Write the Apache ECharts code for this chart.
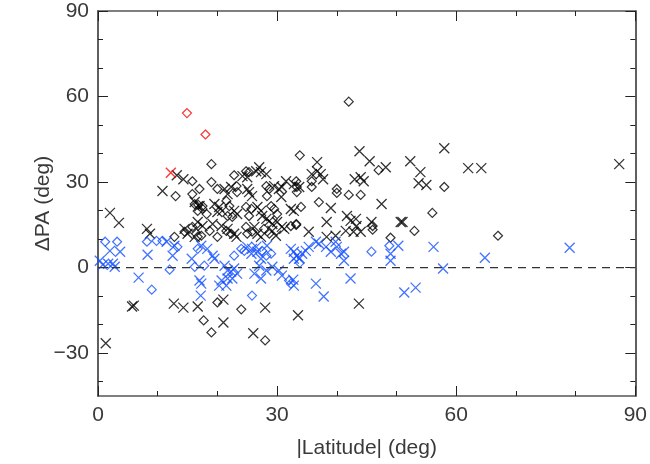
<!DOCTYPE html>
<html>
<head>
<meta charset="utf-8">
<script src="https://cdn.jsdelivr.net/npm/echarts@6/dist/echarts.min.js"></script>
<style>
  html, body { margin: 0; padding: 0; background: #fff; }
  #chart { width: 650px; height: 464px; }
</style>
</head>
<body>
<div id="chart"></div>
<script>
// |latitude| (deg), delta PA (deg)
const blackCross = [
  [2.0, 19.2], [3.5, 15.7], [1.3, -26.5], [5.7, -13.6], [6.0, -13.3], [10.8, 26.9],
  [13.2, 32.4], [14.3, 31.0], [8.2, 13.6], [8.7, 11.9], [14.5, 13.6], [15.0, 11.9],
  [12.7, -12.6], [14.3, -14.0], [16.7, -13.6], [21.0, -11.2], [21.0, -19.2], [28.0, -14.0],
  [26.0, -23.0], [33.5, -16.7], [43.7, -12.6],
  [27.0, 35.2], [26.5, 33.8], [27.3, 33.5], [28.2, 32.8], [24.2, 32.1], [25.0, 31.7],
  [21.2, 27.6], [22.3, 28.3], [21.7, 25.8], [25.0, 27.6], [25.3, 26.5], [25.8, 25.1],
  [29.5, 28.6], [30.3, 27.6], [30.8, 28.3], [30.7, 24.8], [31.5, 30.3], [32.8, 29.3],
  [32.3, 20.6], [32.8, 19.9], [16.2, 23.0], [17.0, 21.6], [19.5, 22.3], [20.3, 21.3],
  [20.0, 19.5], [20.8, 19.9], [22.8, 19.9], [23.3, 18.8], [26.7, 21.3], [27.3, 19.9],
  [27.5, 18.1], [28.2, 17.1], [28.7, 16.4], [29.2, 15.3], [30.0, 16.0], [30.8, 14.3],
  [31.2, 13.6], [16.7, 16.0], [17.5, 14.6], [16.5, 13.6], [19.2, 15.3], [20.7, 14.6],
  [21.7, 13.6], [22.8, 11.9], [23.2, 10.8], [26.2, 14.3], [26.7, 11.9], [27.3, 10.8],
  [29.2, 12.9], [29.8, 11.2], [16.2, 10.8],
  [43.8, 40.8], [45.5, 37.3], [48.2, 35.2], [36.7, 37.0], [35.8, 32.8], [36.7, 33.8],
  [37.3, 32.8], [37.7, 31.0], [33.7, 28.3], [43.0, 31.0], [44.0, 31.7], [44.5, 30.3],
  [39.0, 20.9], [47.5, 22.3], [38.3, 16.0], [41.7, 18.1], [42.3, 16.4], [43.2, 17.1],
  [43.3, 14.6], [35.3, 12.6], [38.3, 10.8], [39.8, 11.2], [41.5, 12.9], [42.8, 12.6],
  [44.0, 12.6], [45.8, 16.0], [50.7, 16.0],
  [58.0, 41.9], [52.3, 37.3], [54.0, 33.5], [53.7, 29.6], [55.0, 29.0], [62.0, 34.9],
  [64.2, 34.9], [51.0, 16.0], [87.3, 36.3]
];
const blackDiamond = [
  [13.0, 25.1], [15.8, 30.3], [17.0, 27.6], [15.8, 25.8], [16.2, 22.3], [16.7, 19.9],
  [17.5, 21.6], [12.8, 10.8], [14.5, 12.6], [15.8, 14.3], [16.7, 10.8], [19.0, 36.3],
  [33.8, 39.4], [24.8, 33.8], [25.3, 33.5], [22.8, 32.4], [19.0, 30.0], [20.0, 27.6],
  [23.2, 28.6], [23.3, 26.5], [28.2, 28.6], [28.7, 27.6], [28.3, 25.1], [33.3, 28.3],
  [33.3, 26.5], [34.0, 21.3], [16.8, 22.0], [17.5, 20.6], [18.2, 18.8], [21.5, 23.4],
  [22.0, 21.6], [21.7, 18.1], [22.5, 17.8], [24.8, 21.3], [25.7, 20.6], [25.3, 18.1],
  [29.0, 21.6], [29.5, 20.6], [30.0, 18.8], [32.3, 14.6], [33.2, 15.3], [17.3, 11.2],
  [18.7, 12.9], [20.0, 10.8], [21.5, 12.9], [22.3, 11.9], [24.8, 14.3], [25.0, 11.9],
  [25.8, 12.6], [27.8, 13.6], [28.7, 11.9],
  [17.7, -18.5], [20.0, -12.2], [19.0, -22.7], [24.0, -14.6], [28.0, -25.5],
  [42.0, 58.2], [47.0, 34.2], [35.8, 30.3], [35.8, 28.3], [33.2, 30.3], [40.0, 27.6],
  [40.0, 26.2], [42.0, 25.5], [44.0, 25.5], [37.0, 23.0], [33.2, 15.0], [46.0, 14.6],
  [46.0, 13.3], [49.0, 10.5], [58.0, 28.3], [56.0, 19.2], [53.0, 12.9], [67.0, 11.2]
];
const blueCross = [
  [2.0, 5.9], [3.7, 5.6], [0.3, 2.4], [0.8, 1.0], [1.7, 1.4], [2.5, 1.4], [2.8, 0.3],
  [6.8, -3.5], [8.3, 4.5], [11.5, 9.1], [12.5, 4.2], [12.8, 7.7], [15.7, 3.1],
  [17.0, -4.5], [17.3, -5.6], [17.2, -9.8], [17.3, 7.7], [18.3, 6.6], [19.2, 4.2],
  [19.5, 3.1], [21.2, 0.7], [21.7, -1.0], [22.3, -1.4], [22.8, -0.3], [23.3, -2.1],
  [22.5, -3.8], [21.7, -3.8], [20.7, -4.5], [20.3, -6.3], [21.5, -6.3], [25.0, 7.3],
  [25.8, 6.6], [26.5, 7.3], [26.7, 5.6], [25.7, 4.9], [28.3, 7.7], [27.3, 3.1],
  [27.0, 0.7], [28.2, -1.0], [29.2, 0.3], [30.3, -1.0], [30.8, -2.8], [32.3, 6.6],
  [32.8, 5.6], [33.3, 4.2], [32.8, 3.1], [33.7, 3.1], [34.2, 4.9], [26.2, -2.1],
  [27.3, -3.8], [32.8, -6.3], [32.7, -4.2], [36.5, -5.6], [37.8, -10.1], [42.3, -3.8],
  [34.8, 5.9], [35.3, 7.3], [36.5, 9.1], [37.0, 8.4], [38.2, 7.3], [39.0, 5.6],
  [39.8, 9.1], [40.0, 7.3], [40.7, 4.9], [41.2, 5.6], [41.2, 2.4],
  [49.0, 4.9], [49.0, 2.4], [50.3, 7.7], [56.2, 7.3], [57.8, -0.3], [64.8, 3.5],
  [51.3, -8.7], [53.2, -7.0], [79.0, 7.0]
];
const blueDiamond = [
  [1.2, 9.1], [3.2, 9.1], [8.2, 9.1], [9.8, 9.4], [10.8, 9.4], [9.0, -7.7], [12.0, -0.7],
  [16.2, 0.3], [13.3, 7.3], [16.7, 6.6], [17.8, 0.7], [22.8, 4.2], [24.0, 6.6],
  [24.5, 5.9], [27.5, 5.9], [28.2, 4.2], [29.0, 4.9], [32.0, -4.5], [32.3, -5.6],
  [25.8, -9.8], [45.8, 5.6], [33.8, 1.7], [48.8, 7.7]
];
const redCross = [[12.2, 33.3]];
const redDiamond = [[14.9, 54.2], [18.0, 46.7]];
const zeroLine = [[0, 0], [90, 0]];

// tick positions on the delta PA axis (range -45..90)
const yMajor = [-30, 0, 30, 60, 90];
const yMinor = [-40, -20, -10, 10, 20, 40, 50, 70, 80];

const crossPath = "path://M0,0L10,10M10,0L0,10";
const textColor = "#3a3a3a";
const axisColor = "#555";
const font = "Liberation Sans";
const fontSize = 21;
const blue = "#1450ff";

function cross(name, data, color) {
  return {
    name, type: "scatter", data, symbol: crossPath, symbolSize: 10,
    itemStyle: { color: "none", borderColor: color, borderWidth: 1.3 },
    silent: true
  };
}
function diamond(name, data, color) {
  return {
    name, type: "scatter", data, symbol: "diamond", symbolSize: 9,
    itemStyle: { color: "none", borderColor: color, borderWidth: 1.2 },
    silent: true
  };
}

const chart = echarts.init(document.getElementById("chart"), null, { renderer: "canvas" });

const tickStyle = { color: "#222", width: 1 };
const baseX = {
  type: "value", min: 0, max: 90, interval: 30,
  axisLine: { show: true, onZero: false, lineStyle: { color: axisColor, width: 1.5 } },
  axisTick: { show: true, inside: true, length: 10, lineStyle: tickStyle },
  minorTick: { show: true, splitNumber: 3, length: 5, lineStyle: tickStyle },
  splitLine: { show: false }
};
function yAxisOf(position, ticks, len, labels) {
  return {
    type: "value", min: -45, max: 90, position,
    axisLine: { show: true, onZero: false, lineStyle: { color: axisColor, width: 1.5 } },
    axisTick: { show: true, inside: true, length: len, customValues: ticks, lineStyle: tickStyle },
    axisLabel: labels
      ? {
          color: textColor, fontSize, fontFamily: font, margin: 9,
          customValues: ticks,
          formatter: (v) => String(v).replace("-", "\u2212")
        }
      : { show: false },
    splitLine: { show: false }
  };
}

const yLeft = yAxisOf("left", yMajor, 10, true);
yLeft.name = "ΔPA (deg)";
yLeft.nameLocation = "middle";
yLeft.nameGap = 44;
yLeft.nameMoveOverlap = false;
yLeft.nameTextStyle = { color: textColor, fontSize, fontFamily: font };

chart.setOption({
  animation: false,
  backgroundColor: "#fff",
  grid: { left: 98, top: 11, right: 12, bottom: 66 },
  xAxis: [
    Object.assign({}, baseX, {
      position: "bottom",
      name: "|Latitude| (deg)", nameLocation: "middle", nameGap: 42,
      nameMoveOverlap: false,
      nameTextStyle: { color: textColor, fontSize, fontFamily: font },
      axisLabel: { color: textColor, fontSize, fontFamily: font, margin: 9 }
    }),
    Object.assign({}, baseX, { position: "top", axisLabel: { show: false } })
  ],
  yAxis: [
    yLeft,
    yAxisOf("left", yMinor, 5, false),
    yAxisOf("right", yMajor, 10, false),
    yAxisOf("right", yMinor, 5, false)
  ],
  series: [
    {
      type: "line", data: zeroLine, symbol: "none", silent: true,
      lineStyle: { color: "#333", width: 1.2, type: [8, 6] }
    },
    cross("black x", blackCross, "#000"),
    diamond("black diamond", blackDiamond, "#000"),
    cross("blue x", blueCross, blue),
    diamond("blue diamond", blueDiamond, blue),
    diamond("red diamond", redDiamond, "#ff0000"),
    cross("red x", redCross, "#ff0000")
  ]
});
</script>
</body>
</html>
